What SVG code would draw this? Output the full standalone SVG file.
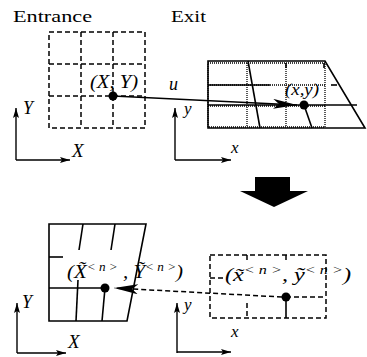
<svg xmlns="http://www.w3.org/2000/svg" width="367" height="357" viewBox="0 0 367 357">
<defs>
<style>
.t{font-family:"Liberation Serif","DejaVu Serif",serif;fill:#000}
.v{font-family:"Liberation Serif","DejaVu Serif",serif;font-style:italic;fill:#000}
.sol{fill:none;stroke:#000;stroke-width:1.6}
.dash{fill:none;stroke:#000;stroke-width:1.5;stroke-dasharray:5 3}
.dot{fill:none;stroke:#000;stroke-width:1.3;stroke-dasharray:1 1}
.ax{fill:none;stroke:#000;stroke-width:1.4}
</style>
<marker id="ah" viewBox="0 0 10 6" refX="10" refY="3" markerWidth="10" markerHeight="6" markerUnits="userSpaceOnUse" orient="auto">
<path d="M0,0 L10,3 L0,6 L2,3 Z" fill="#000"/>
</marker>
<marker id="big" viewBox="0 0 24 10" refX="24" refY="5" markerWidth="24" markerHeight="10" markerUnits="userSpaceOnUse" orient="auto">
<path d="M0,0 L24,5 L0,10 L6,5 Z" fill="#000"/>
</marker>
</defs>

<text class="t" x="13" y="22" font-size="17" textLength="79" lengthAdjust="spacingAndGlyphs">Entrance</text>
<text class="t" x="171" y="22" font-size="17" textLength="35" lengthAdjust="spacingAndGlyphs">Exit</text>

<g id="entrance-grid">
<rect class="dash" x="49" y="32" width="96" height="96"/>
<line class="dash" x1="81" y1="32" x2="81" y2="128"/>
<line class="dash" x1="113" y1="32" x2="113" y2="128"/>
<line class="dash" x1="49" y1="64" x2="145" y2="64"/>
<line class="dash" x1="49" y1="96" x2="145" y2="96"/>
<circle cx="113" cy="96" r="4.5" fill="#000"/>
<text class="v" x="90" y="88" font-size="18" textLength="48" lengthAdjust="spacingAndGlyphs">(X, Y)</text>
</g>

<g id="entrance-axes">
<line class="ax" x1="16" y1="160" x2="16" y2="108" marker-end="url(#ah)"/>
<line class="ax" x1="16" y1="160" x2="70" y2="160" marker-end="url(#ah)"/>
<text class="v" x="23" y="114" font-size="18">Y</text>
<text class="v" x="72" y="157" font-size="19">X</text>
</g>

<g id="exit-grid">
<rect class="dot" x="208" y="63" width="117" height="64"/>
<line class="dot" x1="247" y1="63" x2="247" y2="127"/>
<line class="dot" x1="286" y1="63" x2="286" y2="127"/>
<line class="dot" x1="208" y1="85" x2="325" y2="85"/>
<line class="dot" x1="208" y1="106" x2="325" y2="106"/>
<path class="sol" d="M208,61 L325,61 L365,128 L208,128 Z"/>
<line class="sol" x1="208" y1="85" x2="270" y2="85"/>
<line class="sol" x1="331" y1="85" x2="337" y2="85"/>
<line class="sol" x1="208" y1="105" x2="357" y2="105"/>
<line class="sol" x1="248" y1="61" x2="260" y2="128"/>
<line class="sol" x1="304" y1="105" x2="312" y2="128"/>
<line class="sol" x1="286" y1="63" x2="286" y2="68"/>
<line class="sol" x1="324" y1="63" x2="324" y2="68"/>
<circle cx="304" cy="105" r="4.5" fill="#000"/>
<text class="v" x="285" y="95" font-size="16" textLength="34" lengthAdjust="spacingAndGlyphs">(x,y)</text>
</g>

<g id="exit-axes">
<line class="ax" x1="175" y1="160" x2="175" y2="108" marker-end="url(#ah)"/>
<line class="ax" x1="175" y1="160" x2="231" y2="160" marker-end="url(#ah)"/>
<text class="v" x="184" y="114" font-size="17">y</text>
<text class="v" x="231" y="153" font-size="17">x</text>
</g>

<g id="big-arrow">
<path d="M255,177 L290,177 L290,191 L308,191 L274,207 L240,191 L255,191 Z" fill="#000"/>
</g>

<g id="result-grid">
<path class="sol" d="M49,224 L146,224 L127,321 L49,321 Z"/>
<line class="sol" x1="49" y1="288" x2="105" y2="288"/>
<line class="sol" x1="49" y1="257" x2="63" y2="257"/>
<line class="sol" x1="83" y1="224" x2="79" y2="250"/>
<line class="sol" x1="115" y1="224" x2="111" y2="250"/>
<line class="sol" x1="78" y1="280" x2="76" y2="321"/>
<line class="sol" x1="105" y1="288" x2="102" y2="321"/>
<circle cx="105" cy="288" r="4.5" fill="#000"/>
<text class="v" x="67" y="278" font-size="19" textLength="116" lengthAdjust="spacingAndGlyphs">(X̃<tspan font-size="12" dy="-7">&lt; n &gt;</tspan><tspan dy="7"> , Ỹ</tspan><tspan font-size="12" dy="-7">&lt; n &gt;</tspan><tspan dy="7">)</tspan></text>
</g>

<g id="result-axes">
<line class="ax" x1="17" y1="353" x2="17" y2="303" marker-end="url(#ah)"/>
<line class="ax" x1="17" y1="353" x2="66" y2="353" marker-end="url(#ah)"/>
<text class="v" x="22" y="308" font-size="18">Y</text>
<text class="v" x="68" y="348" font-size="19">X</text>
</g>

<g id="start-grid">
<rect class="dash" x="210" y="255" width="116" height="63"/>
<line class="dash" x1="247" y1="255" x2="247" y2="262"/>
<line class="dash" x1="286" y1="255" x2="286" y2="262"/>
<line class="dash" x1="210" y1="278" x2="224" y2="278"/>
<line class="dash" x1="286" y1="297" x2="326" y2="297"/>
<line class="dash" x1="247" y1="303" x2="247" y2="318"/>
<line class="sol" x1="286" y1="297" x2="286" y2="318"/>
<circle cx="286" cy="297" r="4.5" fill="#000"/>
<text class="v" x="225" y="281" font-size="18" textLength="126" lengthAdjust="spacingAndGlyphs">(x̃<tspan font-size="12" dy="-7">&lt; n &gt;</tspan><tspan dy="7">, ỹ</tspan><tspan font-size="12" dy="-7">&lt; n &gt;</tspan><tspan dy="7">)</tspan></text>
</g>

<g id="start-axes">
<line class="ax" x1="177" y1="353" x2="177" y2="303" marker-end="url(#ah)"/>
<line class="ax" x1="177" y1="352" x2="231" y2="352" marker-end="url(#ah)"/>
<text class="v" x="184" y="310" font-size="17">y</text>
<text class="v" x="231" y="337" font-size="17">x</text>
</g>

<g id="connectors">
<line class="sol" x1="113" y1="96" x2="297" y2="105" marker-end="url(#big)"/>
<text class="v" x="169" y="90" font-size="18">u</text>
<line class="dash" x1="282" y1="297" x2="114" y2="288" marker-end="url(#big)"/>
</g>
</svg>
